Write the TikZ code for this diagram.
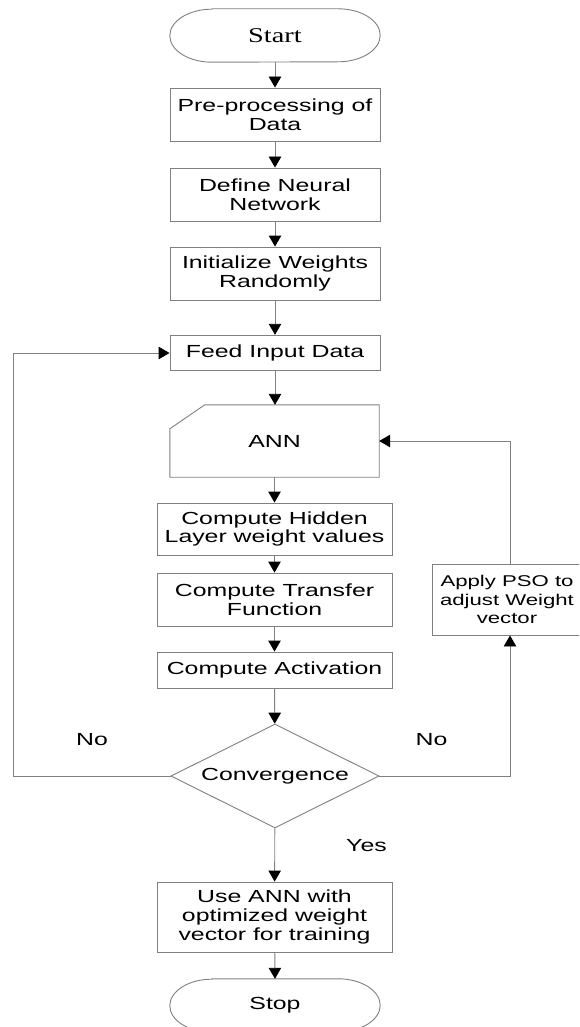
\documentclass[tikz,border=0pt]{standalone}
\usepackage{fontspec}
\setmainfont{Liberation Sans}[FakeStretch=1.42]
\newfontfamily\termfont{Liberation Serif}[FakeStretch=1.35]
\usetikzlibrary{arrows.meta,shapes.geometric,calc}
\definecolor{edge}{RGB}{128,128,128}
\tikzset{
  txt/.style={inner sep=0pt, align=center, text=black,
    font=\fontsize{17.5}{18.8}\selectfont},
  box/.style={txt, draw=edge, line width=0.9pt, rectangle,
    minimum width=210pt},
  widebox/.style={box, minimum width=235pt},
  ghost/.style={txt, draw=none},
  outline/.style={draw=edge, line width=0.9pt},
  flow/.style={draw=edge, line width=0.9pt,
    -{Triangle[width=12.5pt,length=11pt,color=black]}},
  decision/.style={txt, diamond, aspect=2, draw=edge, line width=0.9pt,
    minimum width=208pt, minimum height=104pt},
}
\begin{document}
\begin{tikzpicture}[x=1pt,y=-1pt]
\useasboundingbox (0,0) rectangle (579,1027);
\clip (0,0) rectangle (579,1027);

% terminator and process nodes
\node[ghost, minimum width=210pt, minimum height=53pt,
      font=\termfont\fontsize{21}{22}\selectfont] (start) at (275,35.5) {Start};
\draw[outline] ($(start.north west)+(42pt,0)$) -- ($(start.north east)+(-42pt,0)$)
  arc[start angle=90, end angle=-90, x radius=42pt, y radius=26.5pt]
  -- ($(start.south west)+(42pt,0)$)
  arc[start angle=270, end angle=90, x radius=42pt, y radius=26.5pt] -- cycle;

\node[box, minimum height=53pt] (pre) at (275,114.5) {Pre-processing of\\Data};
\node[box, minimum height=53pt] (def) at (275,194.5) {Define Neural\\Network};
\node[box, minimum height=53pt] (init) at (275,273.5) {Initialize Weights\\Randomly};
\node[box, minimum height=35.5pt] (feed) at (275,353) {Feed Input Data};

% ANN block with a cut top-left corner
\node[ghost, minimum width=209pt, minimum height=72pt] (ann) at (274.5,441) {ANN};
\draw[outline] ($(ann.north west)+(35pt,0)$) -- (ann.north east) -- (ann.south east)
  -- (ann.south west) -- ($(ann.north west)+(0,-24pt)$) -- cycle;

\node[widebox, minimum height=52pt] (hid) at (274.5,529) {Compute Hidden\\Layer weight values};
\node[widebox, minimum height=53pt] (tra) at (274.5,599.5) {Compute Transfer\\Function};
\node[widebox, minimum height=36pt] (act) at (274.5,670) {Compute Activation};

\node[decision] (conv) at (275,776) {Convergence};

\node[widebox, minimum height=70pt] (use) at (274.5,917) {Use ANN with\\optimized weight\\vector for training};

\node[ghost, minimum width=210pt, minimum height=53pt] (stop) at (275,1005.5) {Stop};
\draw[outline] ($(stop.north west)+(42pt,0)$) -- ($(stop.north east)+(-42pt,0)$)
  arc[start angle=90, end angle=-90, x radius=42pt, y radius=26.5pt]
  -- ($(stop.south west)+(42pt,0)$)
  arc[start angle=270, end angle=90, x radius=42pt, y radius=26.5pt] -- cycle;

% PSO box runs past the right edge; its text is kept inside the page
\node[box, minimum width=156pt, minimum height=71pt,
      font=\fontsize{15.6}{18.6}\selectfont] (pso) at (510,599.5) {};
\node[ghost, font=\fontsize{15.6}{18.6}\selectfont] (psotext) at (507,599.5)
  {Apply PSO to\\adjust Weight\\vector};

% branch labels
\node[ghost] (nol) at (92,740) {No};
\node[ghost] (nor) at (431.5,740) {No};
\node[ghost] (yes) at (366.5,846) {Yes};

% main flow
\draw[flow] (start.south) -- (pre.north);
\draw[flow] (pre) -- (def);
\draw[flow] (def) -- (init);
\draw[flow] (init) -- (feed);
\draw[flow] (feed.south) -- (feed.south |- ann.north);
\draw[flow] (ann.south -| hid.north) -- (hid.north);
\draw[flow] (hid) -- (tra);
\draw[flow] (tra) -- (act);
\draw[flow] (act) -- (conv);
\draw[flow] (conv) -- (use);
\draw[flow] (use) -- (stop.north);

% feedback loops
\coordinate (lc) at (13,776);
\draw[flow] (conv.west) -- (lc) |- (feed.west);
\draw[flow] (conv.east) -| (pso.south);
\draw[flow] (pso.north) |- (ann.east);
\end{tikzpicture}
\end{document}
